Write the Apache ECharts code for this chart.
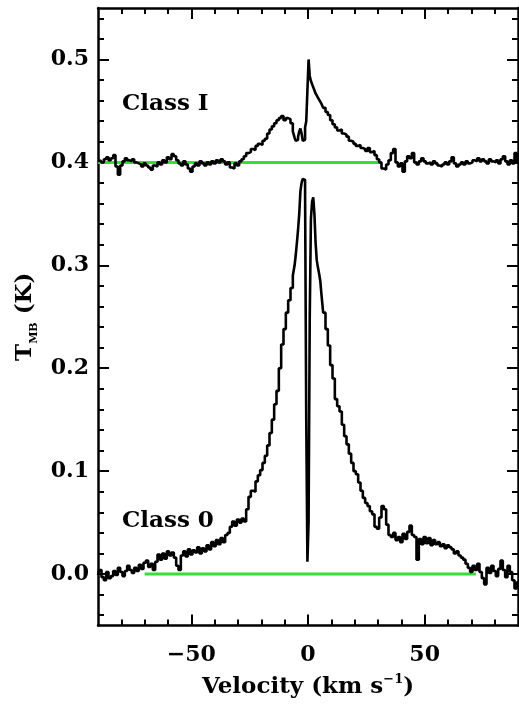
<!DOCTYPE html>
<html><head><meta charset="utf-8">
<script src="https://cdn.jsdelivr.net/npm/echarts@6/dist/echarts.min.js"></script>
<style>html,body{margin:0;padding:0;background:#fff}#c{width:519px;height:704px}</style>
</head><body><div id="c"></div>
<script>
// ---- data ----
const velocity = [
-90,-89,-88,-87,-86,-85,-84,-83,-82,-81,
-80,-79,-78,-77,-76,-75,-74,-73,-72,-71,
-70,-69,-68,-67,-66,-65,-64,-63,-62,-61,
-60,-59,-58,-57,-56,-55,-54,-53,-52,-51,
-50,-49,-48,-47,-46,-45,-44,-43,-42,-41,
-40,-39,-38,-37,-36,-35,-34,-33,-32,-31,
-30,-29,-28,-27,-26,-25,-24,-23,-22,-21,
-20,-19,-18,-17,-16,-15,-14,-13,-12,-11,
-10,-9,-8,-7,-6,
-5.5,-5,-4.5,-4,-3.5,-3,-2.5,-2,-1.5,-1,-0.5,
0,0.5,1,1.5,2,2.5,3,3.5,4,4.5,5,5.5,
6,7,8,9,10,11,12,13,14,15,
16,17,18,19,20,21,22,23,24,25,
26,27,28,29,30,31,32,33,34,35,
36,37,38,39,40,41,42,43,44,45,
46,47,48,49,50,51,52,53,54,55,
56,57,58,59,60,61,62,63,64,65,
66,67,68,69,70,71,72,73,74,75,
76,77,78,79,80,81,82,83,84,85,
86,87,88,89,90];

// Class I spectrum as plotted (offset +0.4 K)
const classI = [
0.401,0.402,0.400,0.403,0.405,0.402,0.404,0.407,0.396,0.388,
0.397,0.401,0.404,0.402,0.401,0.403,0.400,0.399,0.398,0.396,
0.399,0.397,0.395,0.393,0.397,0.396,0.400,0.398,0.402,0.400,
0.405,0.403,0.408,0.406,0.402,0.399,0.397,0.401,0.398,0.394,
0.391,0.396,0.399,0.397,0.401,0.399,0.397,0.400,0.398,0.401,
0.399,0.402,0.400,0.403,0.401,0.398,0.400,0.395,0.394,0.399,
0.397,0.401,0.403,0.406,0.409,0.410,0.413,0.412,0.416,0.418,
0.417,0.421,0.423,0.428,0.432,0.435,0.438,0.441,0.443,0.445,
0.441,0.443,0.442,0.438,0.430,
0.424,0.421,0.422,0.425,0.430,0.433,0.428,0.421,0.422,0.434,0.440,
0.470,0.500,0.484,0.479,0.476,0.473,0.470,0.467,0.465,0.463,0.461,0.459,
0.457,0.453,0.449,0.446,0.441,0.437,0.434,0.431,0.432,0.428,
0.427,0.425,0.421,0.420,0.418,0.416,0.417,0.414,0.413,0.411,
0.414,0.410,0.411,0.407,0.403,0.400,0.394,0.393,0.398,0.402,
0.409,0.413,0.400,0.396,0.399,0.391,0.401,0.406,0.404,0.409,
0.400,0.398,0.401,0.404,0.401,0.399,0.400,0.398,0.401,0.399,
0.397,0.396,0.398,0.400,0.398,0.401,0.405,0.399,0.396,0.398,
0.400,0.398,0.401,0.399,0.400,0.402,0.401,0.404,0.401,0.403,
0.401,0.399,0.403,0.401,0.400,0.402,0.399,0.403,0.406,0.401,
0.398,0.402,0.399,0.409,0.401];

// Class 0 spectrum
const class0 = [
-0.001,0.004,-0.003,-0.006,0.002,-0.004,-0.002,0.003,-0.001,0.006,
0.002,-0.002,0.003,0.008,0.004,0.001,0.006,0.003,0.009,0.005,
0.011,0.013,0.007,0.010,0.004,0.012,0.019,0.014,0.020,0.015,
0.022,0.018,0.021,0.016,0.008,0.004,0.018,0.022,0.017,0.024,
0.019,0.023,0.021,0.026,0.020,0.025,0.022,0.028,0.024,0.031,
0.027,0.033,0.029,0.035,0.031,0.038,0.040,0.046,0.051,0.047,
0.053,0.050,0.054,0.051,0.063,0.075,0.081,0.080,0.090,0.096,
0.101,0.108,0.115,0.125,0.137,0.150,0.165,0.178,0.200,0.223,
0.238,0.254,0.266,0.278,0.290,
0.300,0.310,0.322,0.335,0.350,0.372,0.380,0.384,0.383,0.370,0.150,
0.012,0.050,0.250,0.345,0.362,0.366,0.350,0.322,0.305,0.298,0.292,0.285,
0.272,0.254,0.238,0.222,0.203,0.190,0.170,0.163,0.158,0.145,
0.134,0.126,0.117,0.108,0.100,0.097,0.089,0.081,0.074,0.069,
0.066,0.061,0.058,0.046,0.044,0.055,0.066,0.063,0.048,0.038,
0.036,0.040,0.033,0.036,0.031,0.039,0.034,0.041,0.047,0.038,
0.036,0.014,0.034,0.029,0.036,0.030,0.035,0.028,0.033,0.029,
0.031,0.027,0.029,0.025,0.028,0.026,0.024,0.020,0.022,0.018,
0.016,0.014,0.010,0.006,0.002,0.008,0.004,0.010,0.002,-0.004,
-0.010,0.006,0.001,0.008,0.003,-0.002,0.005,0.013,0.004,-0.003,
0.008,0.002,-0.006,-0.014,-0.008];

// baseline fit lines (green)
const classIBaselineX = [-90, 31];
const classIBaselineY = [0.4, 0.4];
const class0BaselineX = [-70, 72];
const class0BaselineY = [0, 0];

// ticks
const xMajorTicks = [-50, 0, 50];
const xMinorTicks = [-80,-70,-60,-40,-30,-20,-10,10,20,30,40,60,70,80];
const yMajorTicks = [0, 0.1, 0.2, 0.3, 0.4, 0.5];
const yMinorTicks = [-0.04,-0.02,0.02,0.04,0.06,0.08,0.12,0.14,0.16,0.18,0.22,0.24,0.26,0.28,0.32,0.34,0.36,0.38,0.42,0.44,0.46,0.48,0.52,0.54];

const seriesLabels = ['Class I', 'Class 0'];
const xRange = [-90, 90];
const yRange = [-0.05, 0.55];

// ---- chart ----
const FONT = 'DejaVu Serif';
const pairs = (xs, ys) => xs.map((x, i) => [x, ys[i]]);

function axis(dim, pos, ticks, len, withLine, withLabels) {
  const a = {
    type: 'value', position: pos, gridIndex: 0,
    min: dim === 'x' ? xRange[0] : yRange[0],
    max: dim === 'x' ? xRange[1] : yRange[1],
    axisLine: { show: withLine, onZero: false, lineStyle: { color: '#000', width: 2.5 } },
    axisTick: { show: true, inside: true, length: len, customValues: ticks, lineStyle: { color: '#000', width: 2 } },
    axisLabel: { show: false },
    splitLine: { show: false },
    minorTick: { show: false }
  };
  if (withLabels) {
    a.axisLabel = {
      show: true, customValues: ticks, color: '#000',
      fontFamily: FONT, fontWeight: 'bold', fontSize: 22,
      margin: dim === 'x' ? 19 : 9,
      formatter: dim === 'x'
        ? (v => v < 0 ? '\u2212' + Math.abs(v) : String(v))
        : (v => v.toFixed(1))
    };
  }
  return a;
}

const xMain = axis('x', 'bottom', xMajorTicks, 11, true, true);
xMain.name = '{a|Velocity (km s}{s|\u22121}{a|)}';
xMain.nameLocation = 'middle';
xMain.nameGap = 48;
xMain.nameTextStyle = { rich: {
  a: { fontFamily: FONT, fontWeight: 'bold', fontSize: 23, lineHeight: 28, color: '#000' },
  s: { fontFamily: FONT, fontWeight: 'bold', fontSize: 13, lineHeight: 14, verticalAlign: 'top', color: '#000' }
}};

const yMain = axis('y', 'left', yMajorTicks, 11, true, true);
yMain.name = '{a|T}{s|MB}{a| (K)}';
yMain.nameLocation = 'middle';
yMain.nameGap = 52;
yMain.nameRotate = 90;
yMain.nameTextStyle = { rich: {
  a: { fontFamily: FONT, fontWeight: 'bold', fontSize: 23, lineHeight: 30, color: '#000' },
  s: { fontFamily: FONT, fontWeight: 'bold', fontSize: 11, lineHeight: 12, verticalAlign: 'bottom', color: '#000' }
}};

const option = {
  animation: false,
  backgroundColor: '#fff',
  grid: { left: 98, right: 1, top: 8, bottom: 72, containLabel: false },
  xAxis: [
    xMain,
    axis('x', 'bottom', xMinorTicks, 6, false, false),
    axis('x', 'top', xMajorTicks, 11, true, false),
    axis('x', 'top', xMinorTicks, 6, false, false)
  ],
  yAxis: [
    yMain,
    axis('y', 'left', yMinorTicks, 6, false, false),
    axis('y', 'right', yMajorTicks, 11, true, false),
    axis('y', 'right', yMinorTicks, 6, false, false)
  ],
  graphic: [
    { type: 'text', left: 122, top: 93, z: 10,
      style: { text: seriesLabels[0], fill: '#000', font: 'bold 23px "DejaVu Serif"' } },
    { type: 'text', left: 122, top: 510, z: 10,
      style: { text: seriesLabels[1], fill: '#000', font: 'bold 23px "DejaVu Serif"' } }
  ],
  series: [
    { type: 'line', xAxisIndex: 0, yAxisIndex: 0, data: pairs(classIBaselineX, classIBaselineY),
      showSymbol: false, silent: true, z: 2, lineStyle: { color: '#33e033', width: 3 } },
    { type: 'line', xAxisIndex: 0, yAxisIndex: 0, data: pairs(class0BaselineX, class0BaselineY),
      showSymbol: false, silent: true, z: 2, lineStyle: { color: '#33e033', width: 3 } },
    { type: 'line', xAxisIndex: 0, yAxisIndex: 0, data: pairs(velocity, classI), step: 'middle',
      showSymbol: false, silent: true, z: 3, lineStyle: { color: '#000', width: 2.6 } },
    { type: 'line', xAxisIndex: 0, yAxisIndex: 0, data: pairs(velocity, class0), step: 'middle',
      showSymbol: false, silent: true, z: 3, lineStyle: { color: '#000', width: 2.6 } }
  ]
};
echarts.init(document.getElementById('c'), null, { renderer: 'canvas' }).setOption(option);
</script></body></html>
